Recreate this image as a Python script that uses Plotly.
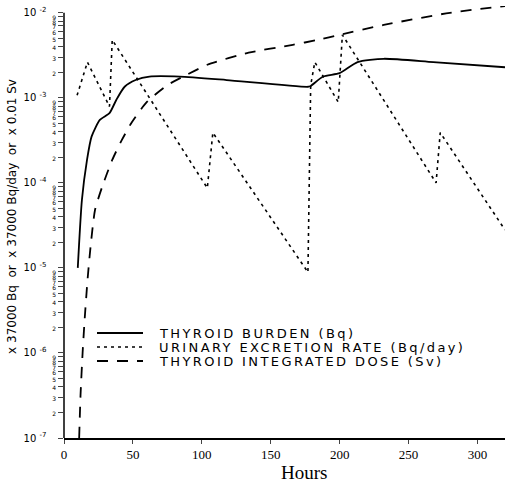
import plotly.graph_objects as go

# ---- data ----
burden_hours = [10, 13, 16.7, 20, 26, 33, 38, 44, 52, 62, 84, 118, 177, 179, 188, 200, 213, 232, 268, 320]
burden_vals = [1.0e-5, 6.3e-5, 1.86e-4, 3.5e-4, 5.5e-4, 6.6e-4, 9.5e-4, 1.35e-3, 1.62e-3, 1.78e-3,
               1.78e-3, 1.62e-3, 1.35e-3, 1.38e-3, 1.78e-3, 1.95e-3, 2.63e-3, 2.88e-3, 2.63e-3, 2.29e-3]

urine_hours = [9.5, 17, 33, 35, 104, 108, 177, 179, 182, 199, 202, 270, 273, 320]
urine_vals = [1.07e-3, 2.63e-3, 7.9e-4, 4.8e-3, 8.7e-5, 3.9e-4, 8.9e-6, 1.41e-3, 2.63e-3,
              8.9e-4, 5.5e-3, 1.0e-4, 3.9e-4, 2.8e-5]

dose_hours = [11, 12, 13.5, 15, 17, 19, 22.5, 27.6, 35, 42, 49, 60, 75, 89, 104, 134, 166, 184, 200, 232, 280, 320]
dose_vals = [1e-7, 3.2e-7, 1e-6, 2.5e-6, 7e-6, 1.6e-5, 4.8e-5, 8.9e-5, 1.86e-4, 3.2e-4, 5.1e-4, 8.9e-4,
             1.41e-3, 1.86e-3, 2.45e-3, 3.4e-3, 4.2e-3, 4.8e-3, 5.5e-3, 7.2e-3, 1.0e-2, 1.2e-2]

x_ticks = [0, 50, 100, 150, 200, 250, 300]
decades = [-7, -6, -5, -4, -3, -2]
series_names = ["THYROID BURDEN (Bq)", "URINARY EXCRETION RATE (Bq/day)", "THYROID INTEGRATED DOSE (Sv)"]
y_title = "x 37000 Bq  or  x 37000 Bq/day  or  x 0.01 Sv"
x_title = "Hours"

# ---- styles ----
NB = "\u00a0"
line_styles = [
    dict(color="black", width=1.8),
    dict(color="black", width=1.6, dash="3px,4px"),
    dict(color="black", width=1.8, dash="11px,9px"),
]

# ---- y tick values / labels ----
y_tickvals, y_ticktext = [], []
for e in decades:
    for m in range(1, 10):
        if e == -2 and m > 1:
            break
        y_tickvals.append(m * 10.0 ** e)
        if m == 1:
            y_ticktext.append(f"10{NB}<sup>{e}</sup>{NB}{NB}{NB}")
        else:
            y_ticktext.append(f"<span style='font-size:6px'>{m}</span>")

fig = go.Figure()
fig.add_trace(go.Scatter(x=burden_hours, y=burden_vals, mode="lines", name=series_names[0],
                         line=dict(**line_styles[0], shape="spline", smoothing=0.6)))
fig.add_trace(go.Scatter(x=urine_hours, y=urine_vals, mode="lines", name=series_names[1],
                         line=line_styles[1]))
fig.add_trace(go.Scatter(x=dose_hours, y=dose_vals, mode="lines", name=series_names[2],
                         line=dict(**line_styles[2], shape="spline", smoothing=0.6)))

# ---- hand-made compact legend (row spacing as in reference) ----
PLOT_H = 483 - 6 - 45
legend_rows_px = [333, 347, 361]
shapes = [dict(type="line", xref="paper", yref="paper", x0=0, x1=0, y0=0, y1=5 / 5.08,
               line=dict(color="black", width=1.5))]
annotations = [
    dict(text=x_title, xref="paper", yref="paper", x=0.544, y=-0.051, xanchor="center", yanchor="top",
         showarrow=False, font=dict(family="Liberation Serif", size=19, color="black")),
    dict(text=y_title.replace("  ", NB + NB),
         xref="paper", yref="paper", x=-0.118, y=0.514, xanchor="center", yanchor="middle",
         textangle=-90, showarrow=False, font=dict(family="DejaVu Sans", size=12, color="black")),
]
for name, style, ypx in zip(series_names, line_styles, legend_rows_px):
    yp = (438 - ypx) / PLOT_H
    shapes.append(dict(type="line", xref="paper", yref="paper", x0=(97 - 64) / 441, x1=(143 - 64) / 441,
                       y0=yp, y1=yp, line=style))
    annotations.append(dict(text=f"<span style='letter-spacing:2.4px'>{name}</span>",
                            xref="paper", yref="paper", x=(157 - 64) / 441, y=yp,
                            xanchor="left", yanchor="middle", showarrow=False,
                            font=dict(family="DejaVu Sans", size=13, color="black")))

fig.update_layout(
    width=506, height=483,
    margin=dict(l=64, r=1, t=6, b=45, autoexpand=False),
    paper_bgcolor="white", plot_bgcolor="white",
    showlegend=False,
    xaxis=dict(range=[0, 320], tickvals=x_ticks, ticks="outside", ticklen=4, tickwidth=1.2,
               showline=True, linecolor="black", linewidth=1.5, showgrid=False, zeroline=False,
               tickfont=dict(family="Liberation Serif", size=13, color="black")),
    yaxis=dict(type="log", range=[-7, -1.92], tickvals=y_tickvals, ticktext=y_ticktext,
               ticks="outside", ticklen=5, tickwidth=1.2,
               showline=False, showgrid=False, zeroline=False,
               tickfont=dict(family="DejaVu Sans", size=10, color="black")),
    annotations=annotations,
    shapes=shapes,
)

fig.write_html("out.html", config={"displayModeBar": False},
               post_script="document.body.style.margin='0';")
